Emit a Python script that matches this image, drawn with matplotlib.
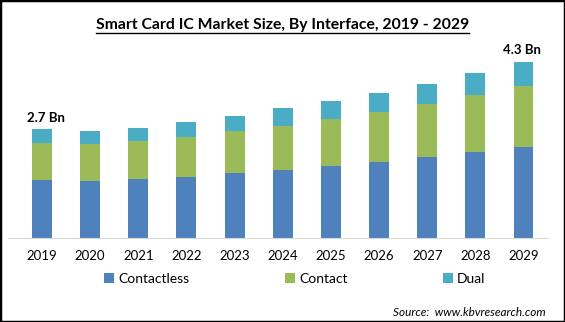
import matplotlib.pyplot as plt
import matplotlib.patches as patches
import numpy as np

years       = ['2019', '2020', '2021', '2022', '2023', '2024',
               '2025', '2026', '2027', '2028', '2029']
contactless = [1.41, 1.39, 1.44, 1.48, 1.58, 1.66, 1.75, 1.85, 1.98, 2.10, 2.22]
contact     = [0.90, 0.90, 0.93, 0.97, 1.03, 1.08, 1.15, 1.22, 1.30, 1.39, 1.49]
dual        = [0.34, 0.32, 0.32, 0.37, 0.37, 0.42, 0.44, 0.46, 0.49, 0.54, 0.59]
series_names = ['Contactless', 'Contact', 'Dual']
end_labels  = {0: '2.7 Bn', 10: '4.3 Bn'}

COLORS = ['#4f81bd', '#9bbb59', '#4bacc6']
FONT   = 'Lato'

plt.rcParams['font.family'] = FONT

fig = plt.figure(figsize=(5.65, 3.22), dpi=100)
ax  = fig.add_axes([0.0142, 0.2618, 0.9558, 0.614])

x = np.arange(len(years))
bottom = np.zeros(len(years))
handles = []
for vals, color, name in zip([contactless, contact, dual], COLORS, series_names):
    b = ax.bar(x, vals, width=0.415, bottom=bottom, color=color, label=name)
    bottom += np.array(vals)
    handles.append(b)

totals = bottom
for i, txt in end_labels.items():
    dx = 3 if i == 0 else -1
    ax.annotate(txt, (x[i], totals[i]), xytext=(dx, 4), textcoords='offset points',
                ha='center', va='bottom', fontsize=9.5, fontweight='bold')

ax.set_xlim(-0.706, 10.51)
ax.set_ylim(0, 4.834)
ax.set_xticks(x)
ax.set_xticklabels(years, fontsize=9.5)
ax.tick_params(axis='x', length=0, pad=9)
ax.set_yticks([])
for s in ['top', 'right', 'left']:
    ax.spines[s].set_visible(False)
ax.spines['bottom'].set_color('#d9d9d9')

title = fig.text(0.5, 0.922, 'Smart Card IC Market Size, By Interface, 2019 - 2029',
                 ha='center', va='center', fontsize=11.3, fontweight='bold')

# underline just under the title text
fig.canvas.draw()
bb = title.get_window_extent().transformed(fig.transFigure.inverted())
fig.add_artist(plt.Line2D([bb.x0, bb.x1], [0.897, 0.897],
                          color='black', linewidth=1))

fig.legend(handles=handles, labels=series_names, loc='center',
           bbox_to_anchor=(0.522, 0.134), ncol=3, frameon=False,
           fontsize=10, handlelength=0.7, handleheight=0.7,
           handletextpad=0.3, columnspacing=6.9)

fig.text(0.965, 0.031, 'Source:  www.kbvresearch.com', ha='right', va='center',
         fontsize=8.5, style='italic')

fig.add_artist(patches.Rectangle((0, 0), 1, 1, transform=fig.transFigure,
                                 fill=False, edgecolor='black', linewidth=2.5))

plt.savefig('out.png', dpi=100)
